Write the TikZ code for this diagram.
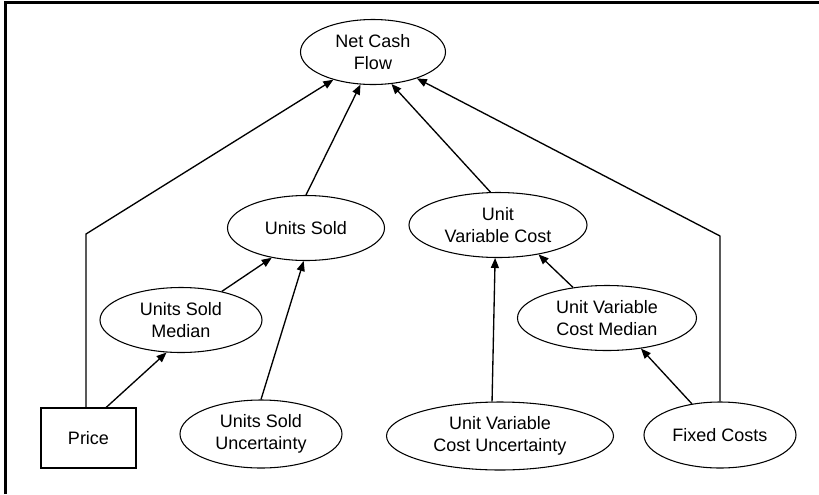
\documentclass[tikz,border=0pt]{standalone}
\usepackage{fontspec}
\setmainfont{Liberation Sans}
\usetikzlibrary{shapes.geometric,arrows.meta}
\tikzstyle{chance} = [ellipse, draw=black, line width=.8pt, inner sep=0pt, minimum height=48.75pt, align=center]
\tikzstyle{decision} = [rectangle, draw=black, line width=.8pt, inner sep=0pt, align=center]
\tikzstyle{link} = [line width=1pt, -{Triangle[length=7.5pt,width=6pt]}]
\tikzstyle{frame} = [line width=2.25pt]

\begin{document}
\begin{tikzpicture}[x=.75pt, y=-.75pt, font=\fontsize{13.5}{16.5}\selectfont]
				\useasboundingbox (0,0) rectangle (819,494);
				\draw[frame] (5,494) -- (5,2.5) -- (819,2.5);
				% nodes
				\node [chance, minimum width=108.75pt] (ncf) at (373,52) {Net Cash\\Flow};
				\node [chance, minimum width=117.75pt] (us) at (306,228) {Units Sold};
				\node [chance, minimum width=133.5pt] (uvc) at (498,225) {Unit\\Variable Cost};
				\node [chance, minimum width=121.5pt] (usm) at (181,320) {Units Sold\\Median};
				\node [chance, minimum width=134.25pt] (uvcm) at (607,318) {Unit Variable\\Cost Median};
				\node [decision, minimum width=71.25pt, minimum height=45pt] (price) at (88.5,438) {Price};
				\node [chance, minimum width=121.5pt, minimum height=51pt] (usu) at (261,434) {Units Sold\\Uncertainty};
				\node [chance, minimum width=170.25pt, minimum height=51pt] (uvcu) at (500,436) {Unit Variable\\Cost Uncertainty};
				\node [chance, minimum width=114pt, minimum height=49.5pt] (fc) at (720,435) {Fixed Costs};
				\coordinate (pbend) at (86,234);
				\coordinate (fbend) at (720,236);
				% links
				\draw [link] (price.north -| pbend) -- (pbend) -- (ncf.215);
				\draw [link] (price.60) -- (usm.246);
				\draw [link] (usm.35) -- (us.221);
				\draw [link] (usu.north) -- (us.266);
				\draw [link] (us.north) -- (ncf.249);
				\draw [link] (uvc.103) -- (ncf.300);
				\draw [link] (fc.north) -- (fbend) -- (ncf.329);
				\draw [link] (uvcu.103) -- (uvc.265);
				\draw [link] (uvcm.138) -- (uvc.324);
				\draw [link] (fc.132) -- (uvcm.318);
	\end{tikzpicture}
\end{document}
